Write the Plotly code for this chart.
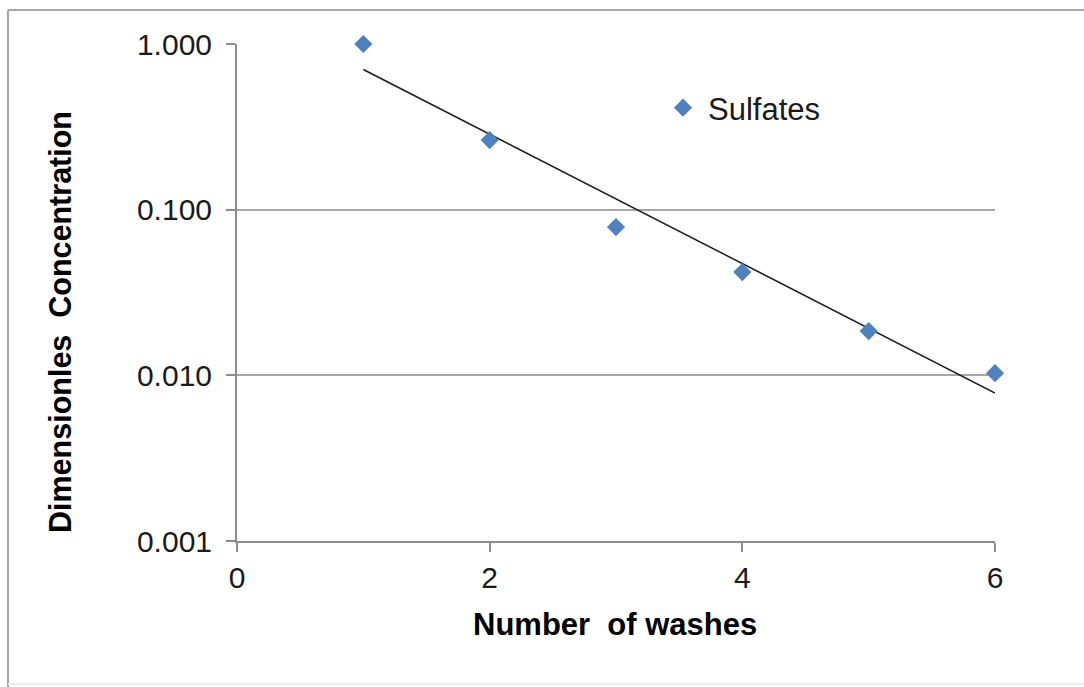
import numpy as np
import plotly.graph_objects as go

washes = [1, 2, 3, 4, 5, 6]
sulfates = [1.0, 0.263, 0.0785, 0.042, 0.0185, 0.0103]
y_ticks = [0.001, 0.01, 0.1, 1.0]
y_tick_text = ["0.001", "0.010", "0.100", "1.000"]
x_ticks = [0, 2, 4, 6]

# exponential trendline fitted to the data
coef = np.polyfit(washes, np.log10(sulfates), 1)
trend_x = [washes[0], washes[-1]]
trend_y = [10 ** (coef[0] * x + coef[1]) for x in trend_x]

FONT = "Liberation Sans, Arial, sans-serif"
L, R, T, B = 237, 89, 44, 146
W, H = 1084, 687
pw, ph = W - L - R, H - T - B

def px(x):
    return (x - L) / pw

def py(y):
    return (H - B - y) / ph

fig = go.Figure()
fig.add_trace(go.Scatter(x=trend_x, y=trend_y, mode="lines",
                         line=dict(color="#1a1a1a", width=1.5),
                         showlegend=False, hoverinfo="skip"))
fig.add_trace(go.Scatter(x=washes, y=sulfates, mode="markers", name="Sulfates",
                         marker=dict(symbol="diamond", size=14, color="#4f81bd"),
                         cliponaxis=False))

fig.update_layout(
    width=W, height=H,
    margin=dict(l=L, r=R, t=T, b=B),
    paper_bgcolor="white", plot_bgcolor="white",
    font=dict(family=FONT, size=30, color="#1a1a1a"),
    showlegend=True,
    legend=dict(x=px(658), y=py(108), xanchor="left", yanchor="middle",
                bgcolor="rgba(0,0,0,0)", font=dict(size=31, color="#1a1a1a"),
                itemwidth=40),
    xaxis=dict(range=[0, 6], tickvals=x_ticks, showgrid=False, zeroline=False,
               showline=True, linecolor="#8c8c8c", linewidth=2,
               ticks="outside", ticklen=9, tickcolor="#8c8c8c", tickwidth=2,
               tickfont=dict(size=30)),
    yaxis=dict(type="log", range=[-3, 0], tickvals=y_ticks, ticktext=y_tick_text,
               showgrid=True, gridcolor="#a6a6a6", gridwidth=2, zeroline=False,
               showline=True, linecolor="#8c8c8c", linewidth=2,
               ticks="outside", ticklen=9, tickcolor="#8c8c8c", tickwidth=2,
               ticklabelstandoff=8, tickfont=dict(size=30)),
    annotations=[
        dict(text="<b>Number  of washes</b>", x=px(615), y=py(624), xref="paper", yref="paper",
             showarrow=False, xanchor="center", yanchor="middle", font=dict(size=31, color="black")),
        dict(text="<b>Dimensionles  Concentration</b>", x=px(60), y=py(322), xref="paper", yref="paper",
             showarrow=False, xanchor="center", yanchor="middle", textangle=-90,
             font=dict(size=30.5, color="black")),
    ],
    shapes=[
        dict(type="line", xref="paper", yref="paper", x0=px(8), x1=px(1100), y0=py(10), y1=py(10),
             line=dict(color="#a6a6a6", width=2)),
        dict(type="line", xref="paper", yref="paper", x0=px(8), x1=px(8), y0=py(10), y1=py(700),
             line=dict(color="#a6a6a6", width=2)),
        dict(type="line", xref="paper", yref="paper", x0=px(8), x1=px(1100), y0=py(684), y1=py(684),
             line=dict(color="#ececec", width=2)),
    ],
)

fig.write_html("out.html")
